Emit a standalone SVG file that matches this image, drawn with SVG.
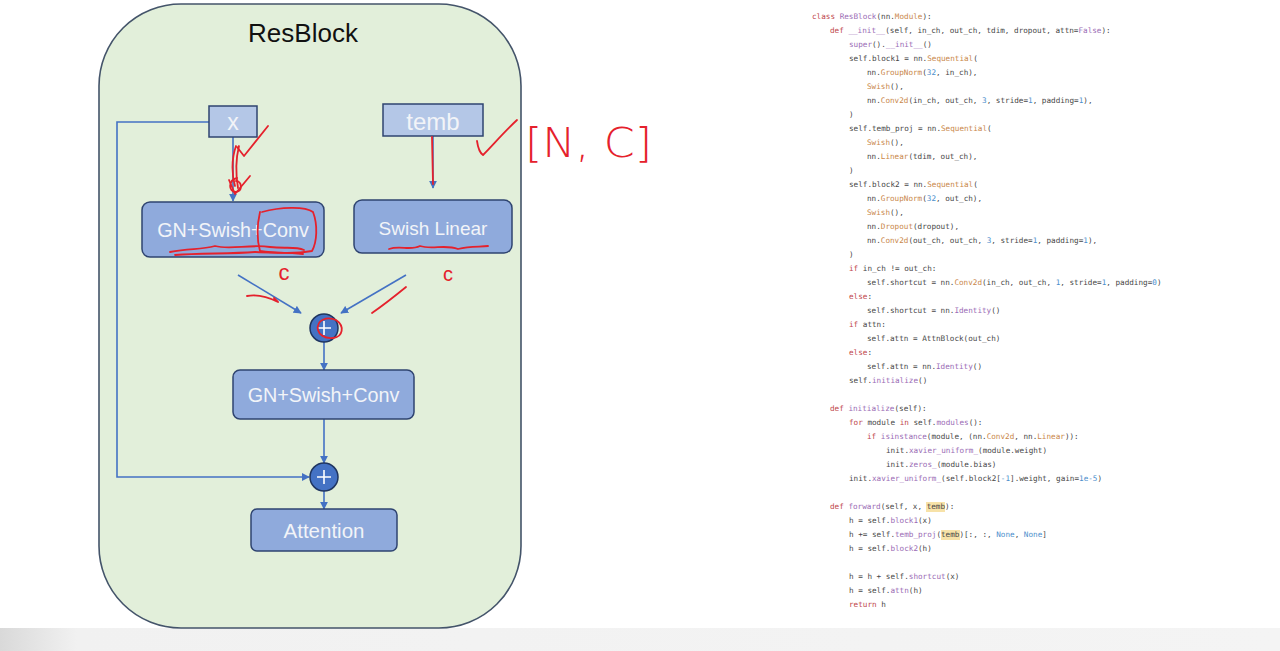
<svg xmlns="http://www.w3.org/2000/svg" width="1280" height="651" viewBox="0 0 1280 651">
<style>
.box{fill:#8faadc;stroke:#2f4470;stroke-width:1.5}
.inp{fill:#b4c7e7;stroke:#2f4470;stroke-width:1.5}
.lbl{font-family:"Liberation Sans",Arial,sans-serif;fill:#f2f4f8;text-anchor:middle}
.con{fill:none;stroke:#4472c4;stroke-width:1.6}
.add{fill:#4472c4;stroke:#1f3560;stroke-width:1.5}
.plus{stroke:#ffffff;stroke-width:1.6}
.red{fill:none;stroke:#e5212c;stroke-width:1.8;stroke-linecap:round;stroke-linejoin:round}
.code{font-family:"DejaVu Sans Mono","Liberation Mono",monospace;font-size:7.65px;fill:#474747}
.k{fill:#c0464b}.f{fill:#9a6bb5}.o{fill:#c9874a}.n{fill:#4d8fcc}
</style>
<defs>
<marker id="ah" viewBox="0 0 10 10" refX="9" refY="5" markerWidth="8" markerHeight="8" markerUnits="userSpaceOnUse" orient="auto">
<path d="M0,0 L10,5 L0,10 z" fill="#4472c4"/>
</marker>
<linearGradient id="bot" x1="0" y1="0" x2="1" y2="0">
<stop offset="0" stop-color="#d9d9d9"/><stop offset="0.06" stop-color="#f1f1f1"/><stop offset="1" stop-color="#f4f4f4"/>
</linearGradient>
</defs>
<rect width="1280" height="651" fill="#ffffff"/>
<rect x="0" y="628" width="1280" height="23" fill="url(#bot)"/>

<g id="resblock">
<rect x="99" y="4" width="422" height="624" rx="82" ry="82" fill="#e2efda" stroke="#44546a" stroke-width="1.6"/>
<text x="303" y="42" font-family="Liberation Sans,Arial,sans-serif" font-size="26" fill="#111" text-anchor="middle">ResBlock</text>
</g>

<g id="connectors">
<path class="con" d="M209,122 H117 V477 H309" marker-end="url(#ah)"/>
<path class="con" d="M233,137 V201" marker-end="url(#ah)"/>
<path class="con" d="M433,136 V188" marker-end="url(#ah)"/>
<path class="con" d="M238,275 L301,313" marker-end="url(#ah)"/>
<path class="con" d="M406,275 L341,313" marker-end="url(#ah)"/>
<path class="con" d="M324,342 V370" marker-end="url(#ah)"/>
<path class="con" d="M324,419 V463" marker-end="url(#ah)"/>
<path class="con" d="M324,491 V509" marker-end="url(#ah)"/>
</g>

<g id="node-x">
<rect class="inp" x="209" y="106" width="48" height="31"/>
<text class="lbl" x="233" y="130" font-size="23">x</text>
</g>
<g id="node-temb">
<rect class="inp" x="383" y="104" width="100" height="32"/>
<text class="lbl" x="433" y="130" font-size="24">temb</text>
</g>
<g id="node-block1">
<rect class="box" x="142" y="202" width="182" height="55" rx="8"/>
<text class="lbl" x="233" y="237" font-size="19.8">GN+Swish+Conv</text>
</g>
<g id="node-tembproj">
<rect class="box" x="354" y="200" width="158" height="53" rx="8"/>
<text class="lbl" x="433" y="235" font-size="19">Swish Linear</text>
</g>
<g id="node-add1">
<circle class="add" cx="324" cy="328" r="14"/>
<path class="plus" d="M317,328 H331 M324,321 V335"/>
</g>
<g id="node-block2">
<rect class="box" x="233" y="370" width="181" height="49" rx="7"/>
<text class="lbl" x="323.5" y="402" font-size="19.8">GN+Swish+Conv</text>
</g>
<g id="node-add2">
<circle class="add" cx="324" cy="477" r="14"/>
<path class="plus" d="M317,477 H331 M324,470 V484"/>
</g>
<g id="node-attention">
<rect class="box" x="251" y="509" width="146" height="42" rx="6"/>
<text class="lbl" x="324" y="538" font-size="20.5">Attention</text>
</g>

<g id="annotations">
<path class="red" d="M236,146 C231,160 232,176 235,186 M239,146 C235,162 236,176 238,188"/>
<path class="red" d="M237,178 C228,180 228,192 236,192 C243,191 242,181 236,181"/>
<path class="red" d="M229,180 L235,194 L250,176"/>
<path class="red" d="M237,147 L244,156 L268,126"/>
<path class="red" d="M432,137 L433,184"/>
<path class="red" d="M477,141 C478,148 480,153 483,155 C492,146 505,131 517,120"/>
<text x="525" y="157" font-family="DejaVu Sans,sans-serif" font-weight="200" font-size="40" fill="#e5212c" textLength="127" lengthAdjust="spacingAndGlyphs">[N, C]</text>
<path class="red" d="M262,212 C280,207 305,206 313,212 C318,225 317,242 312,251 C295,254 272,253 260,251 C257,240 257,225 260,212"/>
<path class="red" d="M170,252 C190,248 200,250 215,246 C230,250 250,244 270,247 C285,249 295,246 304,250 M175,255 C200,253 230,254 255,252 C275,253 290,252 303,254"/>
<path class="red" d="M389,249 C400,245 410,251 420,246 C432,250 445,244 458,249 C470,246 480,247 488,246"/>
<text x="284" y="280" font-family="Liberation Sans,sans-serif" font-size="22" fill="#e5212c" text-anchor="middle">c</text>
<text x="448" y="281" font-family="Liberation Sans,sans-serif" font-size="20" fill="#e5212c" text-anchor="middle">c</text>
<path class="red" d="M247,296 C258,294 270,298 278,302 L274,298"/>
<path class="red" d="M372,313 C385,304 395,296 406,287"/>
<path class="red" d="M318,330 C316,320 327,316 336,320 C345,326 343,337 333,338 C324,339 319,334 318,330"/>
</g>

<g id="code" class="code">
<text x="812" y="19"><tspan class="k">class</tspan> <tspan class="f">ResBlock</tspan>(nn.<tspan class="o">Module</tspan>):</text>
<text x="830" y="33"><tspan class="k">def</tspan> <tspan class="f">__init__</tspan>(self, in_ch, out_ch, tdim, dropout, attn=<tspan class="f">False</tspan>):</text>
<text x="849" y="47"><tspan class="f">super</tspan>().<tspan class="f">__init__</tspan>()</text>
<text x="849" y="61">self.block1 = nn.<tspan class="o">Sequential</tspan>(</text>
<text x="867" y="75">nn.<tspan class="o">GroupNorm</tspan>(<tspan class="n">32</tspan>, in_ch),</text>
<text x="867" y="89"><tspan class="o">Swish</tspan>(),</text>
<text x="867" y="103">nn.<tspan class="o">Conv2d</tspan>(in_ch, out_ch, <tspan class="n">3</tspan>, stride=<tspan class="n">1</tspan>, padding=<tspan class="n">1</tspan>),</text>
<text x="849" y="117">)</text>
<text x="849" y="131">self.temb_proj = nn.<tspan class="o">Sequential</tspan>(</text>
<text x="867" y="145"><tspan class="o">Swish</tspan>(),</text>
<text x="867" y="159">nn.<tspan class="o">Linear</tspan>(tdim, out_ch),</text>
<text x="849" y="173">)</text>
<text x="849" y="187">self.block2 = nn.<tspan class="o">Sequential</tspan>(</text>
<text x="867" y="201">nn.<tspan class="o">GroupNorm</tspan>(<tspan class="n">32</tspan>, out_ch),</text>
<text x="867" y="215"><tspan class="o">Swish</tspan>(),</text>
<text x="867" y="229">nn.<tspan class="o">Dropout</tspan>(dropout),</text>
<text x="867" y="243">nn.<tspan class="o">Conv2d</tspan>(out_ch, out_ch, <tspan class="n">3</tspan>, stride=<tspan class="n">1</tspan>, padding=<tspan class="n">1</tspan>),</text>
<text x="849" y="257">)</text>
<text x="849" y="271"><tspan class="k">if</tspan> in_ch != out_ch:</text>
<text x="867" y="285">self.shortcut = nn.<tspan class="o">Conv2d</tspan>(in_ch, out_ch, <tspan class="n">1</tspan>, stride=<tspan class="n">1</tspan>, padding=<tspan class="n">0</tspan>)</text>
<text x="849" y="299"><tspan class="k">else</tspan>:</text>
<text x="867" y="313">self.shortcut = nn.<tspan class="f">Identity</tspan>()</text>
<text x="849" y="327"><tspan class="k">if</tspan> attn:</text>
<text x="867" y="341">self.attn = AttnBlock(out_ch)</text>
<text x="849" y="355"><tspan class="k">else</tspan>:</text>
<text x="867" y="369">self.attn = nn.<tspan class="f">Identity</tspan>()</text>
<text x="849" y="383">self.<tspan class="f">initialize</tspan>()</text>
<text x="830" y="411"><tspan class="k">def</tspan> <tspan class="f">initialize</tspan>(self):</text>
<text x="849" y="425"><tspan class="k">for</tspan> module <tspan class="k">in</tspan> self.<tspan class="f">modules</tspan>():</text>
<text x="867" y="439"><tspan class="k">if</tspan> <tspan class="f">isinstance</tspan>(module, (nn.<tspan class="o">Conv2d</tspan>, nn.<tspan class="o">Linear</tspan>)):</text>
<text x="886" y="453">init.<tspan class="f">xavier_uniform_</tspan>(module.weight)</text>
<text x="886" y="467">init.<tspan class="f">zeros_</tspan>(module.bias)</text>
<text x="849" y="481">init.<tspan class="f">xavier_uniform_</tspan>(self.block2[<tspan class="n">-1</tspan>].weight, gain=<tspan class="n">1e-5</tspan>)</text>
<rect x="926" y="502" width="19" height="10" fill="#f7e2a8"/>
<rect x="941" y="530" width="19" height="10" fill="#f7e2a8"/>
<text x="830" y="509"><tspan class="k">def</tspan> <tspan class="f">forward</tspan>(self, x, temb):</text>
<text x="849" y="523">h = self.<tspan class="f">block1</tspan>(x)</text>
<text x="849" y="537">h += self.<tspan class="f">temb_proj</tspan>(temb)[:, :, <tspan class="n">None</tspan>, <tspan class="n">None</tspan>]</text>
<text x="849" y="551">h = self.<tspan class="f">block2</tspan>(h)</text>
<text x="849" y="579">h = h + self.<tspan class="f">shortcut</tspan>(x)</text>
<text x="849" y="593">h = self.<tspan class="f">attn</tspan>(h)</text>
<text x="849" y="607"><tspan class="k">return</tspan> h</text>
</g>
</svg>
